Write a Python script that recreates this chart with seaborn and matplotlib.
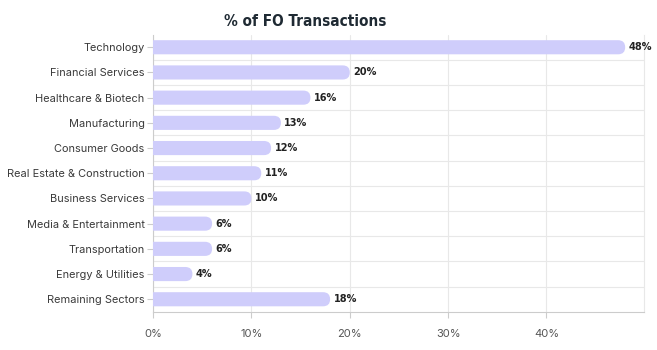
import matplotlib
matplotlib.use("Agg")
import matplotlib.pyplot as plt
import seaborn as sns
import pandas as pd
from matplotlib.patches import FancyBboxPatch
from matplotlib.ticker import FuncFormatter
from matplotlib import font_manager

categories = ["Technology", "Financial Services", "Healthcare & Biotech", "Manufacturing",
              "Consumer Goods", "Real Estate & Construction", "Business Services",
              "Media & Entertainment", "Transportation", "Energy & Utilities", "Remaining Sectors"]
values = [48, 20, 16, 13, 12, 11, 10, 6, 6, 4, 18]
title = "% of FO Transactions"

df = pd.DataFrame({"cat": categories, "val": values})

sns.set_theme(style="white")
avail = {f.name for f in font_manager.fontManager.ttflist}
label_font = "Inter" if "Inter" in avail else "DejaVu Sans"
if "Liberation Sans Narrow" in avail:
    cond_kw = dict(family=["Liberation Sans Narrow", "DejaVu Sans"])
else:
    cond_kw = dict(family=["DejaVu Sans"], fontstretch="condensed")
plt.rcParams["font.family"] = [label_font, "DejaVu Sans"]

fig = plt.figure(figsize=(6.57, 3.5), dpi=100)
ax = fig.add_axes([0.233, 0.109, 0.747, 0.792])

bar_color = "#cfcdfb"
sns.barplot(data=df, x="val", y="cat", color=bar_color, width=0.56, ax=ax, zorder=3)
ax.set_xlim(0, 49.9)
ax.set_ylim(len(categories) - 0.5, -0.5)
fig.canvas.draw()

x_px = ax.transData.transform((1, 0))[0] - ax.transData.transform((0, 0))[0]
y_px = abs(ax.transData.transform((0, 1))[1] - ax.transData.transform((0, 0))[1])
bars = list(ax.patches)
for p in bars:
    x0, y0, w, h = p.get_x(), p.get_y(), p.get_width(), p.get_height()
    p.remove()
    r_px = h * y_px / 2
    r_x = r_px / x_px
    fb = FancyBboxPatch((x0 - r_x, y0), w + r_x, h,
                        boxstyle=f"round,pad=0,rounding_size={r_x}",
                        mutation_aspect=x_px / y_px,
                        facecolor=bar_color, edgecolor="none", zorder=3, clip_on=True)
    ax.add_patch(fb)

for i, v in enumerate(values):
    ax.text(v + 0.35, i, f"{v}%", va="center", ha="left", fontsize=7.8,
            fontweight="bold", color="#222222", zorder=4, **cond_kw)

ax.set_xticks([0, 10, 20, 30, 40])
ax.xaxis.set_major_formatter(FuncFormatter(lambda v, _: f"{int(v)}%"))
ax.set_yticks(range(len(categories)))
ax.set_yticks([i + 0.5 for i in range(len(categories) - 1)], minor=True)
ax.grid(axis="x", which="major", color="#e8e8e8", lw=0.8, zorder=0)
ax.grid(axis="y", which="minor", color="#e8e8e8", lw=0.8, zorder=0)
ax.set_xlabel("")
ax.set_ylabel("")
ax.tick_params(axis="x", which="major", labelsize=8, length=4, width=0.8,
               color="#cccccc", pad=8, bottom=True)
ax.tick_params(axis="y", which="major", labelsize=7.9, length=4, width=0.8,
               color="#cccccc", pad=2, left=True)
ax.tick_params(axis="y", which="minor", length=0)
for lbl in ax.get_xticklabels():
    lbl.set_color("#555555")
for lbl in ax.get_yticklabels():
    lbl.set_color("#3a3a3a")
for s in ["left", "bottom"]:
    ax.spines[s].set_color("#cccccc")
    ax.spines[s].set_linewidth(0.8)
ax.spines["right"].set_color("#e8e8e8")
ax.spines["right"].set_linewidth(0.8)
ax.spines["top"].set_visible(False)

fig.text(0.465, 0.94, title, ha="center", va="center", fontsize=11, fontweight="bold",
         color="#1f2a33", **cond_kw)

fig.savefig("out.png", dpi=100, facecolor="white")
